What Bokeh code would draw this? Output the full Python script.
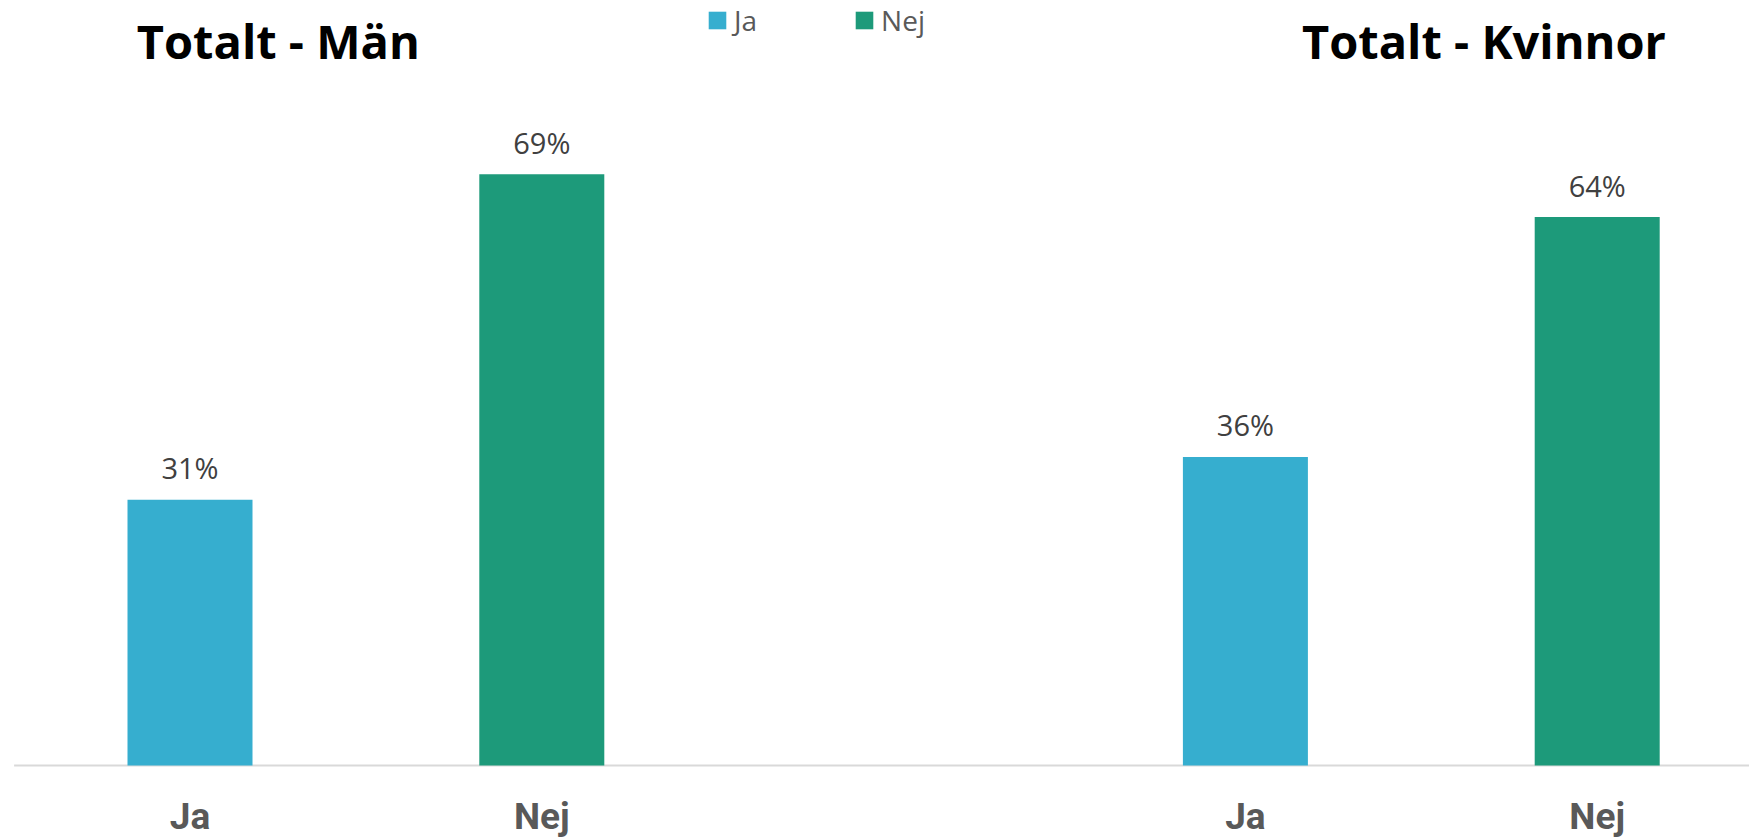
from bokeh.plotting import figure
from bokeh.models import Range1d, Legend, LegendItem
from bokeh.core.properties import value
from bokeh.embed import file_html
from bokeh.resources import INLINE

# ---- data ----
groups = ["Totalt - Män", "Totalt - Kvinnor"]
answers = ["Ja", "Nej"]
ja_values = [31, 36]
nej_values = [69, 64]
colors = ["#36AECF", "#1D9A7A"]

# ---- layout (pixels) ----
W, H = 1749, 840
PX_X = 351.8          # pixels per category slot
PX_Y = 8.57           # pixels per percent
BASE_PY = 765         # baseline (0 %) from top of figure
FIRST_PX = 189.5      # centre of first category from left of figure

x_start = -FIRST_PX / PX_X
x_end = x_start + W / PX_X
y_start = -(H - BASE_PY) / PX_Y
y_end = BASE_PY / PX_Y


def px_to_x(px):
    return x_start + px / PX_X


def px_to_y(py):
    return y_end - py / PX_Y


p = figure(width=W, height=H,
           x_range=Range1d(x_start, x_end), y_range=Range1d(y_start, y_end),
           output_backend="svg", toolbar_location=None,
           x_axis_type=None, y_axis_type=None, min_border=0)
p.outline_line_color = None
p.background_fill_color = "white"
p.border_fill_color = "white"

slot = len(answers) + 1

# category axis line: starts at the left edge of the first category band
p.segment(x0=[-0.5], y0=[0], x1=[x_end], y1=[0],
          line_color="#D9D9D9", line_width=2)

series = [ja_values, nej_values]
renderers = []
for ai, (ans, vals, col) in enumerate(zip(answers, series, colors)):
    xs = [gi * slot + ai for gi in range(len(groups))]
    r = p.vbar(x=xs, top=vals, bottom=0, width=125 / PX_X,
               fill_color=col, line_color=None)
    renderers.append(r)
    p.text(x=xs, y=vals, text=[f"{v}%" for v in vals],
           text_align="center", text_baseline="alphabetic", y_offset=-32,
           text_font=value("Open Sans"), text_font_size="29px",
           text_color="#404040")
    p.text(x=xs, y=[0] * len(xs), text=[ans] * len(xs),
           text_align="center", text_baseline="alphabetic", y_offset=51,
           text_font=value("Roboto"), text_font_style="bold",
           text_font_size="37px", text_color="#595959")

# group titles
p.text(x=[px_to_x(136.3), px_to_x(1301.5)], y=[px_to_y(40.7)] * 2, text=groups,
       text_align="left", text_baseline="alphabetic",
       text_font=value("Open Sans"), text_font_style="bold",
       text_font_size="47px", text_color="black")

legend = Legend(items=[LegendItem(label=a, renderers=[r])
                       for a, r in zip(answers, renderers)],
                orientation="horizontal", location=(706, 801),
                padding=0, margin=0, spacing=96, label_standoff=6,
                glyph_width=22, glyph_height=22,
                label_text_font="Open Sans", label_text_font_size="28px",
                label_text_color="#595959",
                border_line_color=None, background_fill_alpha=0)
p.add_layout(legend)

open("out.html", "w").write(file_html(p, INLINE))
